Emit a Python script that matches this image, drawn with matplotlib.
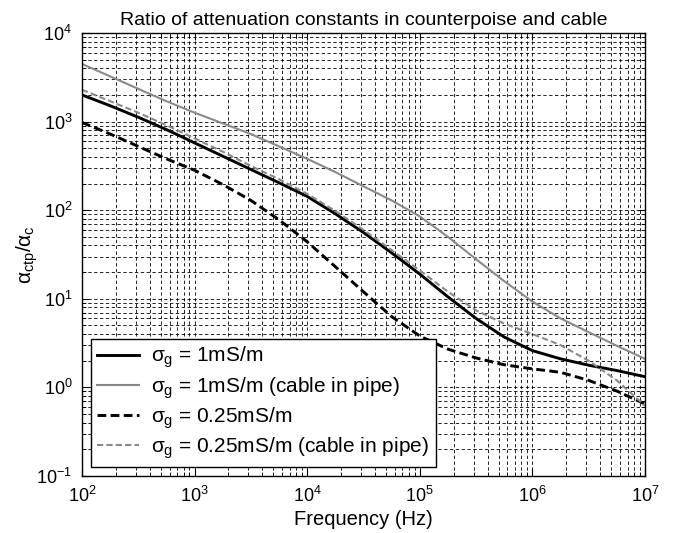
import numpy as np
import matplotlib
matplotlib.use('Agg')
import matplotlib.pyplot as plt

plt.rcParams['font.family'] = ['Liberation Sans', 'DejaVu Sans']
plt.rcParams['mathtext.fontset'] = 'custom'
plt.rcParams['mathtext.rm'] = 'Liberation Sans'
plt.rcParams['mathtext.it'] = 'Liberation Sans'
plt.rcParams['mathtext.bf'] = 'Liberation Sans'

# frequency points (Hz), quarter-decade steps from 100 Hz to 10 MHz
freq = [100, 178, 316, 562, 1e3, 1.78e3, 3.16e3, 5.62e3, 1e4, 1.78e4, 3.16e4,
        5.62e4, 1e5, 1.78e5, 3.16e5, 5.62e5, 1e6, 1.78e6, 3.16e6, 5.62e6, 1e7]

# attenuation ratio alpha_ctp / alpha_c
ratio_1ms = [2000, 1510, 1120, 813, 575, 407, 288, 204, 143, 91, 56,
             33, 19, 10.5, 6.0, 3.7, 2.6, 2.1, 1.78, 1.55, 1.32]
ratio_1ms_pipe = [4470, 3240, 2340, 1700, 1260, 955, 724, 525, 380, 269, 186,
                  129, 85, 50, 28, 15.8, 9.3, 6.0, 4.2, 2.95, 2.1]
ratio_025ms = [977, 724, 525, 380, 282, 195, 129, 78, 44, 23, 12,
               6.3, 3.8, 2.7, 2.15, 1.8, 1.62, 1.48, 1.2, 0.91, 0.65]
ratio_025ms_pipe = [2290, 1700, 1260, 912, 646, 457, 316, 224, 153, 98, 60,
                    35.5, 20.9, 12, 7.4, 5.25, 4.0, 3.0, 2.0, 1.2, 0.62]

labels = [r'$\sigma_\mathrm{g}$ = 1mS/m',
          r'$\sigma_\mathrm{g}$ = 1mS/m (cable in pipe)',
          r'$\sigma_\mathrm{g}$ = 0.25mS/m',
          r'$\sigma_\mathrm{g}$ = 0.25mS/m (cable in pipe)']

gray = '#8a8a8a'

fig = plt.figure(figsize=(6.74, 5.33), dpi=100)
ax = fig.add_axes([82/674, 1 - 476/533, 563/674, 443/533])

ax.loglog(freq, ratio_1ms, color='black', lw=2.1, label=labels[0])
ax.loglog(freq, ratio_1ms_pipe, color=gray, lw=1.5, label=labels[1])
ax.loglog(freq, ratio_025ms, color='black', lw=2.1, ls=(0, (3, 1.5)), label=labels[2])
ax.loglog(freq, ratio_025ms_pipe, color=gray, lw=1.5, ls=(0, (3, 1.5)), label=labels[3])

ax.set_xlim(1e2, 1e7)
ax.set_ylim(1e-1, 1e4)

# matlab style dashed grid on every decade and sub-decade
ax.grid(True, which='both', color='black', lw=0.6, ls=(0, (4, 3)))
ax.tick_params(which='both', direction='in', top=True, right=True,
               labelsize=13, color='black', pad=7)
ax.tick_params(which='major', length=5)
ax.tick_params(which='minor', length=3)
for s in ax.spines.values():
    s.set_linewidth(1.0)

ax.set_title('Ratio of attenuation constants in counterpoise and cable',
             fontsize=14, pad=6)
ax.set_xlabel('Frequency (Hz)', fontsize=14.5, labelpad=3)
ax.set_ylabel(r'$\alpha_{\mathrm{ctp}}/\alpha_\mathrm{c}$', fontsize=15, labelpad=-3)

leg = ax.legend(loc='lower left', bbox_to_anchor=(9/563, 9/443),
                borderaxespad=0, fontsize=15, fancybox=False, framealpha=1,
                edgecolor='black', handlelength=2.0, labelspacing=0.22,
                borderpad=0.3, handletextpad=0.6)
leg.get_frame().set_linewidth(1.0)

fig.savefig('out.png', dpi=100)
